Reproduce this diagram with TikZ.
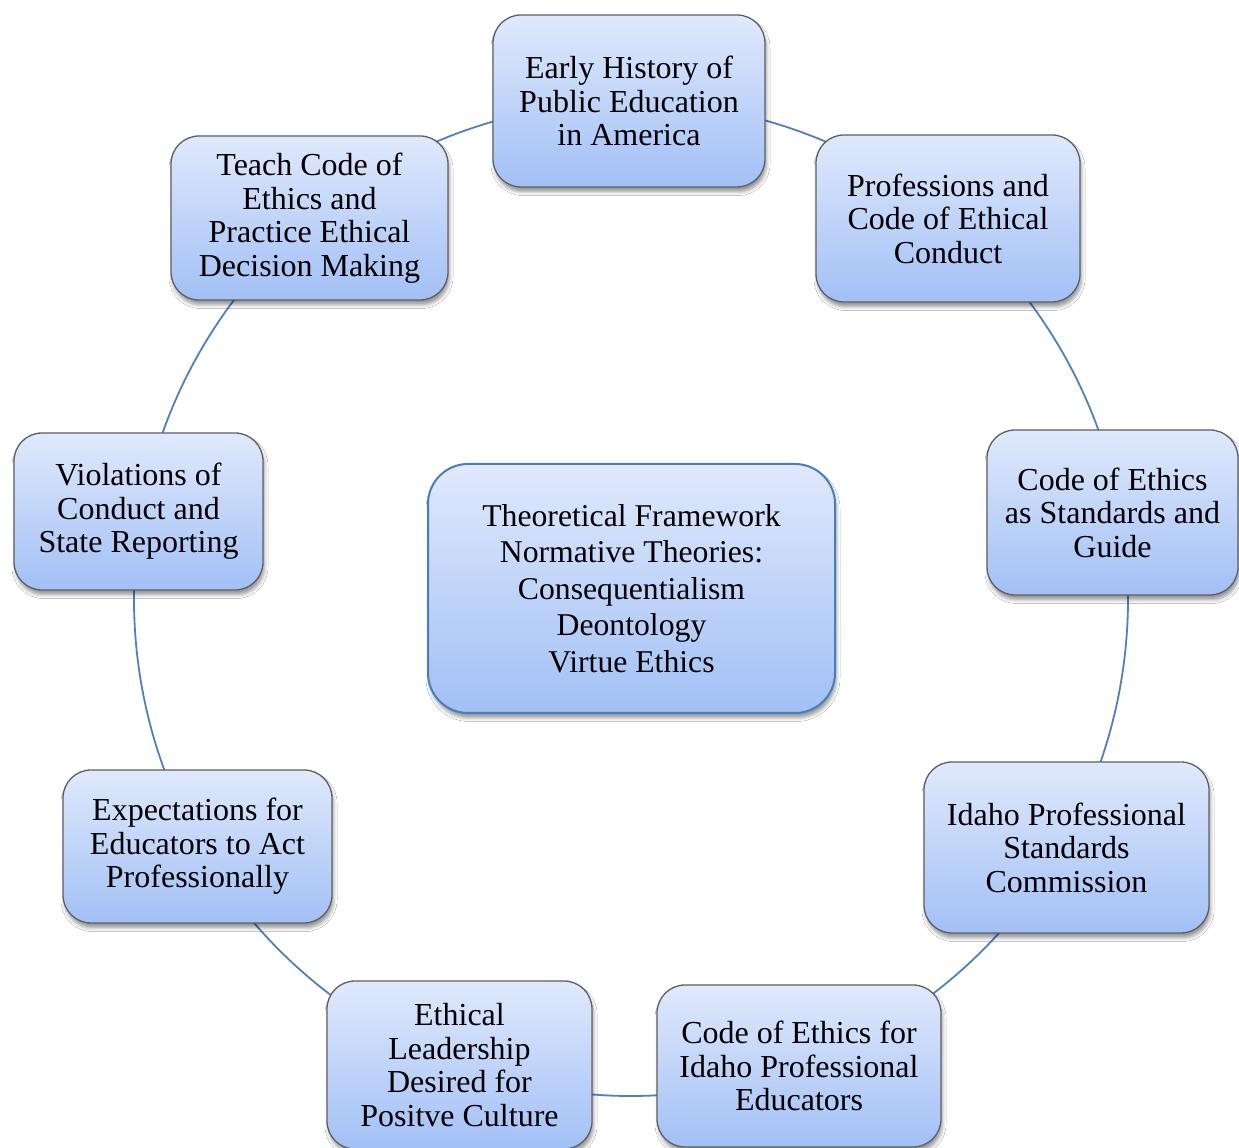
\documentclass[tikz,border=0pt]{standalone}
\usepackage{fontspec}
\setmainfont{Liberation Serif}
\usetikzlibrary{shadows.blur,backgrounds}
\definecolor{boxtop}{RGB}{224,233,252}
\definecolor{boxbot}{RGB}{162,192,246}
\definecolor{boxedge}{RGB}{95,95,100}
\definecolor{centeredge}{RGB}{74,126,187}
\definecolor{linkcol}{RGB}{79,129,189}
\tikzset{
  cyclebox/.style={draw=boxedge, line width=1.3pt, rounded corners=28pt,
    top color=boxtop, bottom color=boxbot, align=center, inner sep=0pt,
    font=\rmfamily\fontsize{32}{33.5}\selectfont,
    blur shadow={shadow xshift=1.5pt, shadow yshift=-5pt, shadow blur radius=3.5pt, shadow opacity=40}},
  hubbox/.style={cyclebox, draw=centeredge, line width=2pt, rounded corners=40pt,
    font=\rmfamily\fontsize{31.7}{36.6}\selectfont},
  link/.style={draw=linkcol, line width=1.8pt}
}
\begin{document}
\begin{tikzpicture}[x=1pt,y=1pt]
\useasboundingbox (0,0) rectangle (1239,1148);
\def\R{497pt}
\coordinate (O) at (631,549);

\node[cyclebox, minimum width=272pt, minimum height=172pt] (n1) at (629,1047)
  {Early History of\\Public Education\\in America};
\node[cyclebox, minimum width=264pt, minimum height=167pt] (n2) at (948,929.5)
  {Professions and\\Code of Ethical\\Conduct};
\node[cyclebox, minimum width=251pt, minimum height=165pt] (n3) at (1112.5,635.5)
  {Code of Ethics\\as Standards and\\Guide};
\node[cyclebox, minimum width=285pt, minimum height=171pt] (n4) at (1066.5,300.5)
  {Idaho Professional\\Standards\\Commission};
\node[cyclebox, minimum width=284pt, minimum height=162pt] (n5) at (799,82)
  {Code of Ethics for\\Idaho Professional\\Educators};
\node[cyclebox, minimum width=265pt, minimum height=168pt] (n6) at (459.5,83)
  {Ethical\\Leadership\\Desired for\\Positve Culture};
\node[cyclebox, minimum width=269pt, minimum height=153pt] (n7) at (197.5,301.5)
  {Expectations for\\Educators to Act\\Professionally};
\node[cyclebox, minimum width=249pt, minimum height=157pt] (n8) at (138.5,636.5)
  {Violations of\\Conduct and\\State Reporting};
\node[cyclebox, minimum width=277pt, minimum height=164pt] (n9) at (309.5,930)
  {Teach Code of\\Ethics and\\Practice Ethical\\Decision Making};
\node[hubbox, minimum width=407pt, minimum height=249pt] (hub) at (631.5,559.5)
  {Theoretical Framework\\Normative Theories:\\Consequentialism\\Deontology\\Virtue Ethics};

\begin{scope}[on background layer]
  \fill[white] (0,0) rectangle (1239,1148);
  \foreach \a/\b in {90/50, 50/10, 10/-30, -30/-70, -70/-110, -110/-150, -150/-190, 170/130, 130/90}{
    \draw[link] (O) ++(\a:\R) arc[start angle=\a, end angle=\b, radius=\R];
  }
\end{scope}
\end{tikzpicture}
\end{document}
